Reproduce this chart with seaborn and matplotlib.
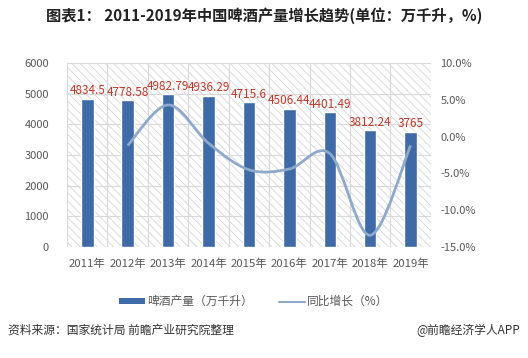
import numpy as np
import pandas as pd
import matplotlib
matplotlib.use("Agg")
import matplotlib.pyplot as plt
import seaborn as sns
from matplotlib.path import Path
from matplotlib.patches import PathPatch, Rectangle
from matplotlib.lines import Line2D

sns.set_theme(style="white")
plt.rcParams['font.family'] = ['Noto Sans CJK SC', 'DejaVu Sans']
plt.rcParams['hatch.linewidth'] = 0.6
plt.rcParams['hatch.color'] = '#D6D6D6'

years = ['2011年', '2012年', '2013年', '2014年', '2015年', '2016年', '2017年', '2018年', '2019年']
output = [4834.5, 4778.58, 4982.79, 4936.29, 4715.6, 4506.44, 4401.49, 3812.24, 3765]
growth_years = years[1:]
growth = [-1.2, 4.3, -0.9, -4.5, -4.4, -2.3, -13.4, -1.2]
out_ticks = [0, 1000, 2000, 3000, 4000, 5000, 6000]
pct_ticks = [-15, -10, -5, 0, 5, 10]

BAR = '#3E6BA8'
LINE = '#8EA9CC'
GRAY = '#595959'

df = pd.DataFrame({'year': years, 'output': output})

fig = plt.figure(figsize=(5.28, 3.58), dpi=100)
ax = fig.add_axes([0.127, 0.310, 0.689, 0.514])

# hatched background
ax.add_patch(Rectangle((0, 0), 1, 1, transform=ax.transAxes, facecolor='white',
                       edgecolor='#D6D6D6', hatch='\\\\\\\\', lw=0, zorder=0))

sns.barplot(data=df, x='year', y='output', color=BAR, width=0.31, saturation=1,
            ax=ax, zorder=3)
ax.bar_label(ax.containers[0], labels=[f'{v:g}' for v in output], color='#C0392B',
             fontsize=8.5, padding=1)

ax.set_ylim(0, 6000)
ax.set_xlim(-0.5, len(years) - 0.5)
ax.set_yticks(out_ticks)
for y in out_ticks:
    ax.axhline(y, color='#D9D9D9', lw=0.8, zorder=1)
for x in np.arange(-0.5, len(years), 1):
    ax.axvline(x, color='#D9D9D9', lw=0.8, zorder=1)
ax.set_xlabel('')
ax.set_ylabel('')
ax.tick_params(axis='y', labelsize=8, colors=GRAY, length=0, pad=13)
ax.tick_params(axis='x', labelsize=8.2, colors=GRAY, length=0, pad=8)
for s in ax.spines.values():
    s.set_visible(False)

# growth line, smoothed with Catmull-Rom bezier segments
ax2 = ax.twinx()
ax2.set_ylim(-15, 10)
ax2.set_yticks(pct_ticks)
ax2.set_yticklabels([f'{v:.1f}%' for v in pct_ticks])
ax2.tick_params(axis='y', labelsize=8, colors=GRAY, length=0, pad=7)
for s in ax2.spines.values():
    s.set_visible(False)

gx = np.array([years.index(y) for y in growth_years], dtype=float)
gy = np.array(growth, dtype=float)
pts = np.column_stack([gx, gy])
ext = np.vstack([pts[0], pts, pts[-1]])
verts = [pts[0]]
codes = [Path.MOVETO]
for i in range(1, len(ext) - 2):
    p0, p1, p2, p3 = ext[i - 1], ext[i], ext[i + 1], ext[i + 2]
    verts += [p1 + (p2 - p0) / 6, p2 - (p3 - p1) / 6, p2]
    codes += [Path.CURVE4] * 3
ax2.add_patch(PathPatch(Path(verts, codes), facecolor='none', edgecolor=LINE,
                        lw=2, zorder=4))

fig.text(0.5, 0.957, '图表1： 2011-2019年中国啤酒产量增长趋势(单位：万千升，%)',
         ha='center', va='center', fontsize=11, fontweight='bold', color='#222222')

handles = [Rectangle((0, 0), 1, 1, facecolor=BAR, edgecolor='none'),
           Line2D([0], [0], color=LINE, lw=1.5)]
fig.legend(handles, ['啤酒产量（万千升）', '同比增长（%）'], loc='center',
           bbox_to_anchor=(0.48, 0.157), ncol=2, frameon=False, fontsize=8.5,
           handlelength=2.2, handleheight=0.35, columnspacing=2.2,
           handletextpad=0.2, labelcolor=GRAY)

fig.text(0.015, 0.078, '资料来源：国家统计局 前瞻产业研究院整理', ha='left', va='center',
         fontsize=8.5, color='#333333')
fig.text(0.985, 0.078, '@前瞻经济学人APP', ha='right', va='center',
         fontsize=8.5, color='#333333')

fig.savefig('out.png', dpi=100)
